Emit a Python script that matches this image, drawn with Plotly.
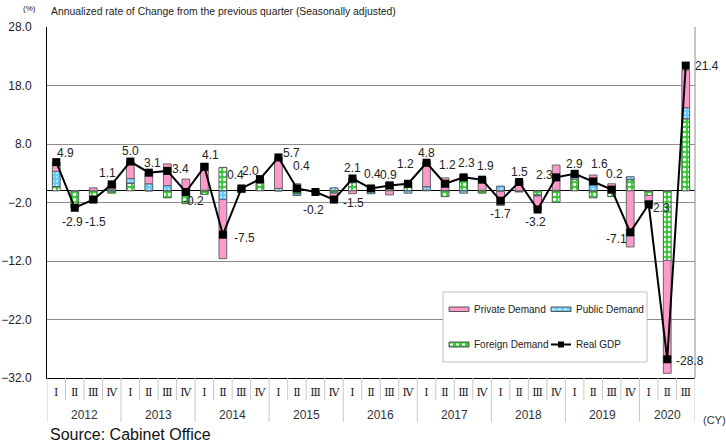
import plotly.graph_objects as go

# ---------------- data ----------------
years = [2012, 2013, 2014, 2015, 2016, 2017, 2018, 2019, 2020]
quarters_per_year = [4, 4, 4, 4, 4, 4, 4, 4, 3]
quarter_names = ["Ⅰ", "Ⅱ", "Ⅲ", "Ⅳ"]

foreign_demand = [0.7, -2.5, -1.9, -0.4, 1.3, 0.0, -1.2, -2.2, -0.6, 4.0, -0.3, 1.3,
                  0.0, -0.5, 0.0, -0.4, 1.4, 0.3, 1.3, 1.0, 0.1, -1.0, 2.0, -0.4,
                  -0.1, -0.1, -0.7, -2.0, 2.0, -1.2, -1.0, 1.9, -0.8, -11.9, 12.3]
public_demand = [2.6, -0.4, -0.1, 0.3, 0.8, 1.2, 0.9, 0.1, 0.1, -1.5, 0.2, 0.1,
                 0.4, -0.3, 0.1, 0.5, 0.7, -0.5, 0.2, -0.4, 0.6, 0.1, -0.4, 0.1,
                 0.8, -0.1, -0.2, 0.1, 0.3, 1.1, 0.4, 0.5, 0.0, 0.0, 1.9]
private_demand = [1.6, 0.0, 0.5, 1.1, 2.9, 1.9, 3.7, 1.9, 4.6, -10.1, 0.4, 0.6,
                  5.3, 1.2, -0.3, -1.5, -0.5, 0.6, -0.7, 0.6, 4.3, 2.1, 0.7, 2.2,
                  -2.4, 1.7, -2.4, 4.3, 0.6, 1.6, 0.8, -9.6, -1.5, -19.3, 6.4]
real_gdp = [4.9, -2.9, -1.5, 1.1, 5.0, 3.1, 3.4, -0.2, 4.1, -7.5, 0.4, 2.0,
            5.7, 0.4, -0.2, -1.5, 2.1, 0.4, 0.9, 1.2, 4.8, 1.2, 2.3, 1.9,
            -1.7, 1.5, -3.2, 2.3, 2.9, 1.6, 0.2, -7.1, -2.3, -28.8, 21.4]

# ---------------- styles ----------------
# label offsets in pixels (dx right, dy down) relative to each GDP marker
label_dx = [9, -2, 2, -4, 0, 4, 13, 8, 6, 22, -6, -9,
            13, 5, -2, 20, 0, 1, -1, -3, 0, 2, 3, 3,
            0, 0, -2, -12, 0, 6, 3, -14, 11, 23, 21]
label_dy = [-9, 14, 22, -11, -11, -10, -2, 9, -12, 3, -13, -8,
            -4, -22, 18, 3, -11, -14, -11, -20, -10, -19, -14, -14,
            13, -10, 12, -2, -10, -17, -16, 7, 4, 2, 0]

W, H = 726, 448
L, R, T, B = 47, 31, 27, 70
PW, PH = W - L - R, H - T - B


def px(X):
    return (X - L) / PW


def py(Y):
    return (H - B - Y) / PH


quarter_labels = []
for yv, n in zip(years, quarters_per_year):
    quarter_labels += quarter_names[:n]
xs = list(range(len(quarter_labels)))

TEXT = "Liberation Sans, Arial, sans-serif"
fig = go.Figure()

fig.add_trace(go.Bar(
    x=xs, y=foreign_demand, width=0.42, name="Foreign Demand",
    marker=dict(color="#33cc33",
                pattern=dict(shape=".", fgcolor="white", bgcolor="#33cc33",
                             size=5, solidity=0.35, fillmode="replace"),
                line=dict(color="#555555", width=1))))
fig.add_trace(go.Bar(
    x=xs, y=public_demand, width=0.42, name="Public Demand",
    marker=dict(color="#66ccff",
                pattern=dict(shape=".", fgcolor="white", bgcolor="#66ccff",
                             size=4, solidity=0.15, fillmode="replace"),
                line=dict(color="#555555", width=1))))
fig.add_trace(go.Bar(
    x=xs, y=private_demand, width=0.42, name="Private Demand",
    marker=dict(color="#ff99cc", line=dict(color="#666666", width=1))))
fig.add_trace(go.Scatter(
    x=xs, y=real_gdp, mode="lines+markers", name="Real GDP",
    line=dict(color="black", width=2),
    marker=dict(symbol="square", size=8, color="black")))

annotations = []
for i, v in enumerate(real_gdp):
    annotations.append(dict(x=xs[i], y=v, xref="x", yref="y", text=f"{v:.1f}",
                            showarrow=False, xshift=label_dx[i], yshift=-label_dy[i],
                            font=dict(family=TEXT, size=12, color="#222222")))

shapes = []
# quarter separators and year separators
start = 0
year_bounds = [0]
for n in quarters_per_year:
    start += n
    year_bounds.append(start)
for i in range(1, len(xs)):
    if i not in year_bounds:
        shapes.append(dict(type="line", xref="x", yref="paper", x0=i - 0.5, x1=i - 0.5,
                           y0=0, y1=py(400), line=dict(color="#c8c8c8", width=1)))
for b in year_bounds:
    shapes.append(dict(type="line", xref="x", yref="paper", x0=b - 0.5, x1=b - 0.5,
                       y0=0, y1=py(422), line=dict(color="#c8c8c8", width=1)))
# year labels
for k, yv in enumerate(years):
    c = (year_bounds[k] + year_bounds[k + 1] - 1) / 2
    annotations.append(dict(x=c, y=py(415), xref="x", yref="paper", text=str(yv),
                            showarrow=False, yanchor="middle",
                            font=dict(family=TEXT, size=12, color="#333333")))

# -2 reference line and right border
shapes.append(dict(type="line", xref="paper", yref="y", x0=0, x1=1, y0=-2, y1=-2,
                   line=dict(color="black", width=1), layer="below"))
shapes.append(dict(type="line", xref="paper", yref="paper", x0=1, x1=1, y0=0, y1=1,
                   line=dict(color="#8c8c8c", width=1)))

# manual legend
shapes.append(dict(type="rect", xref="paper", yref="paper", x0=px(443), x1=px(647),
                   y0=py(362), y1=py(292), line=dict(color="#c0c0c0", width=1),
                   fillcolor="white"))
shapes.append(dict(type="rect", xref="paper", yref="paper", x0=px(449), x1=px(469),
                   y0=py(311.5), y1=py(307), line=dict(color="#555555", width=1),
                   fillcolor="#ff99cc"))
shapes.append(dict(type="rect", xref="paper", yref="paper", x0=px(551), x1=px(571),
                   y0=py(311.5), y1=py(307), line=dict(color="#555555", width=1),
                   fillcolor="#66ccff"))
shapes.append(dict(type="line", xref="paper", yref="paper", x0=px(552), x1=px(570),
                   y0=py(309.25), y1=py(309.25), line=dict(color="white", width=1, dash="dot")))
shapes.append(dict(type="rect", xref="paper", yref="paper", x0=px(449), x1=px(469),
                   y0=py(347), y1=py(342), line=dict(color="#555555", width=1),
                   fillcolor="#33cc33"))
shapes.append(dict(type="line", xref="paper", yref="paper", x0=px(450), x1=px(468),
                   y0=py(344.5), y1=py(344.5), line=dict(color="white", width=2, dash="dot")))
shapes.append(dict(type="line", xref="paper", yref="paper", x0=px(551), x1=px(571),
                   y0=py(344.5), y1=py(344.5), line=dict(color="black", width=2)))
shapes.append(dict(type="rect", xref="paper", yref="paper", x0=px(558), x1=px(564),
                   y0=py(347.5), y1=py(341.5), line=dict(color="black", width=0),
                   fillcolor="black"))
for txt, X, Y in [("Private Demand", 472, 309.5), ("Public Demand", 574, 309.5),
                  ("Foreign Demand", 472, 344.5), ("Real GDP", 574, 344.5)]:
    annotations.append(dict(x=px(X), y=py(Y), xref="paper", yref="paper", text=txt,
                            showarrow=False, xanchor="left", yanchor="middle",
                            font=dict(family=TEXT, size=10, color="#222222")))

# titles / notes
annotations.append(dict(x=px(29), y=py(9), xref="paper", yref="paper", text="(%)",
                        showarrow=False, xanchor="center", yanchor="middle",
                        font=dict(family=TEXT, size=8, color="#222222")))
annotations.append(dict(x=px(49), y=py(12), xref="paper", yref="paper",
                        text="Annualized rate of Change from the previous quarter (Seasonally adjusted)",
                        showarrow=False, xanchor="left", yanchor="middle",
                        font=dict(family=TEXT, size=10.4, color="#222222")))
annotations.append(dict(x=px(714), y=py(420), xref="paper", yref="paper", text="(CY)",
                        showarrow=False, xanchor="center", yanchor="middle",
                        font=dict(family=TEXT, size=11, color="#333333")))
annotations.append(dict(x=px(48), y=py(434), xref="paper", yref="paper",
                        text="Source: Cabinet Office",
                        showarrow=False, xanchor="left", yanchor="middle",
                        font=dict(family=TEXT, size=16, color="#111111")))

fig.update_layout(
    width=W, height=H,
    margin=dict(l=L, r=R, t=T, b=B, pad=0, autoexpand=False),
    paper_bgcolor="white", plot_bgcolor="white",
    barmode="relative", showlegend=False,
    annotations=annotations, shapes=shapes,
    xaxis=dict(range=[-0.5, len(xs) - 0.5], tickmode="array", tickvals=xs,
               ticktext=quarter_labels, ticks="", showgrid=False, zeroline=False,
               showline=True, linecolor="black", linewidth=1, automargin=False,
               tickfont=dict(family="DejaVu Serif, Liberation Serif, serif", size=11, color="#222222"),
               ticklabelstandoff=4, fixedrange=True),
    yaxis=dict(range=[-32, 28], tick0=-2, dtick=10, tickformat=".1f", ticks="",
               showgrid=True, gridcolor="#8c8c8c", gridwidth=1,
               zeroline=True, zerolinecolor="black", zerolinewidth=1,
               showline=True, linecolor="black", linewidth=1, automargin=False,
               tickfont=dict(family=TEXT, size=12, color="#222222"),
               ticklabelstandoff=12, fixedrange=True),
)

fig.write_html("out.html", config={"displayModeBar": False},
               post_script="document.body.style.margin='0px';document.body.style.padding='0px';")
